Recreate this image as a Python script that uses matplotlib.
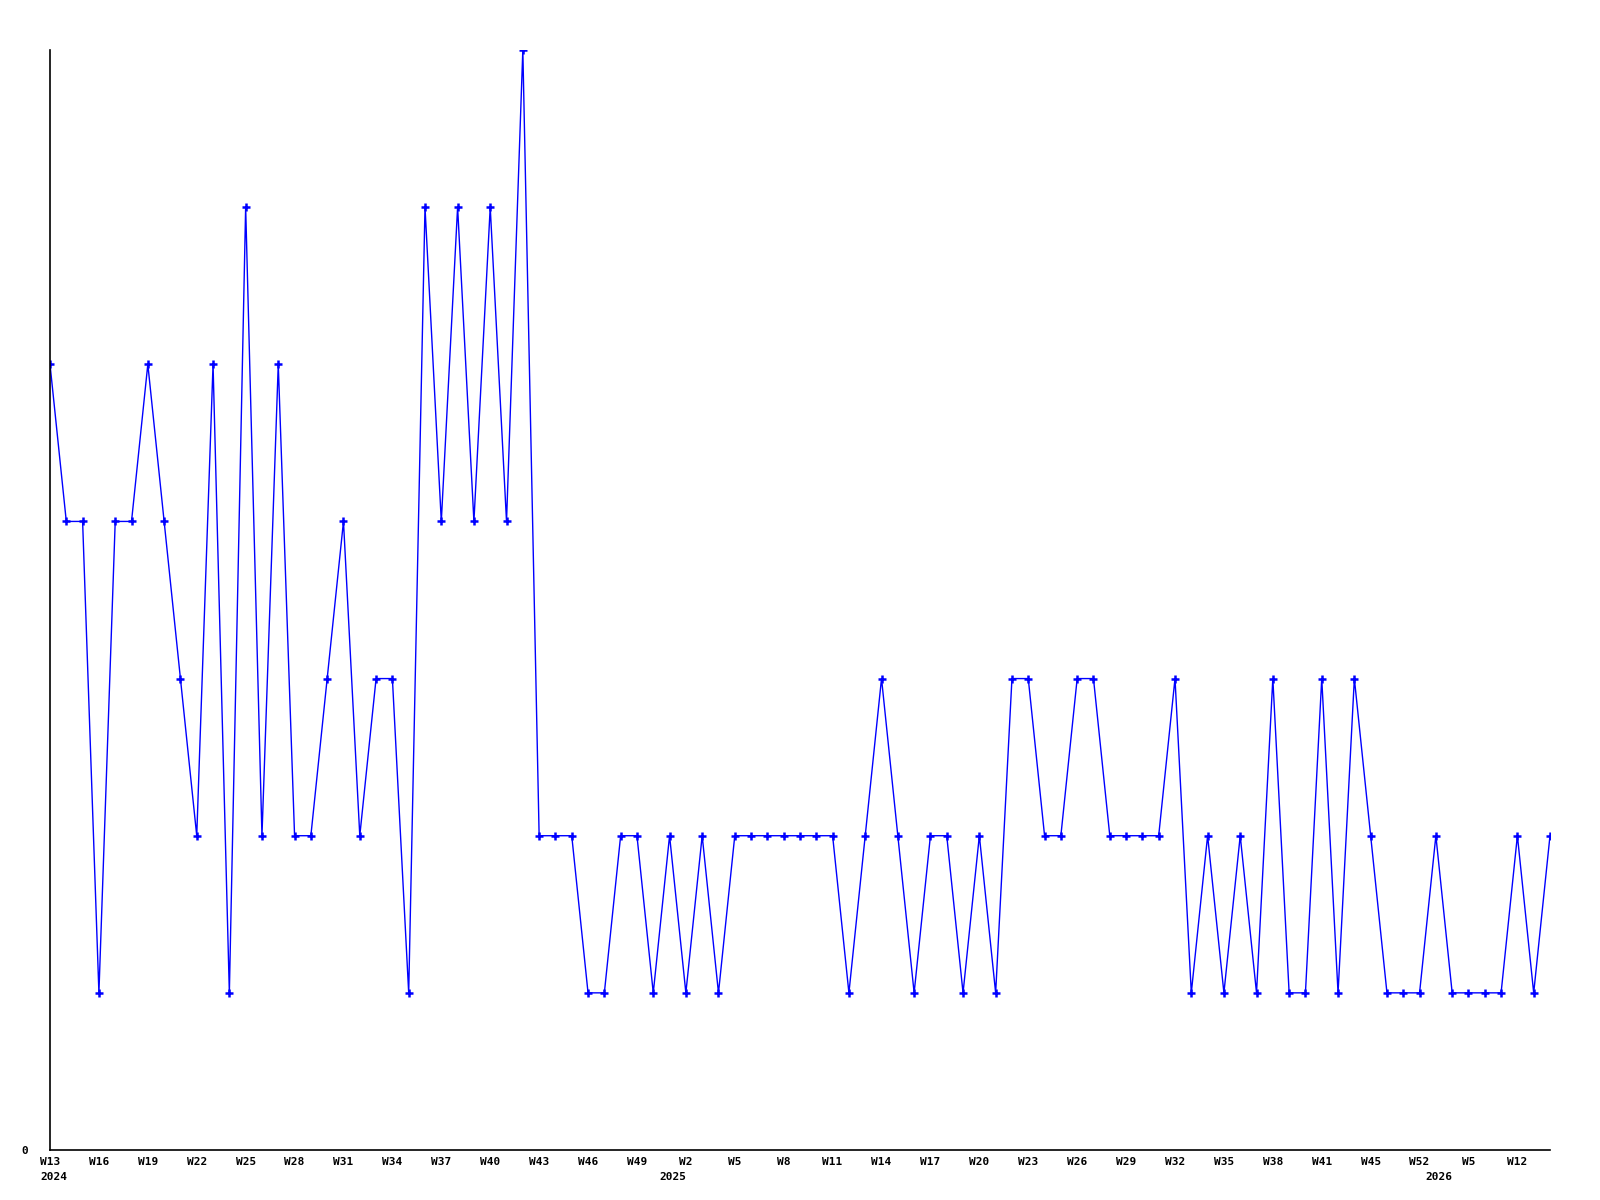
import matplotlib
matplotlib.use("Agg")
import matplotlib.pyplot as plt
from matplotlib import transforms

# weekly counts, one value per plotted week (categorical x axis)
values = [5, 4, 4, 1, 4, 4, 5, 4, 3, 2,
          5, 1, 6, 2, 5, 2, 2, 3, 4, 2,
          3, 3, 1, 6, 4, 6, 4, 6, 4, 7,
          2, 2, 2, 1, 1, 2, 2, 1, 2, 1,
          2, 1, 2, 2, 2, 2, 2, 2, 2, 1,
          2, 3, 2, 1, 2, 2, 1, 2, 1, 3,
          3, 2, 2, 3, 3, 2, 2, 2, 2, 3,
          1, 2, 1, 2, 1, 3, 1, 1, 3, 1,
          3, 2, 1, 1, 1, 2, 1, 1, 1, 1,
          2, 1, 2]

# week labels shown on every third point
week_labels = ["W13", "W16", "W19", "W22", "W25", "W28", "W31", "W34", "W37",
               "W40", "W43", "W46", "W49", "W2", "W5", "W8", "W11", "W14",
               "W17", "W20", "W23", "W26", "W29", "W32", "W35", "W38", "W41",
               "W45", "W52", "W5", "W12"]
week_label_step = 3

# year labels and the point index where each year starts
years = ["2024", "2025", "2026"]
year_start_idx = [0, 38, 85]

fig = plt.figure(figsize=(16, 12), dpi=100)
ax = fig.add_axes([50 / 1600, 50 / 1200, 1500 / 1600, 1100 / 1200])

x = list(range(len(values)))
ax.plot(x, values, color="#0000ff", linewidth=1.0, marker="+",
        markersize=5.5, markeredgewidth=1.8)

ax.set_xlim(0, len(values) - 1)
ax.set_ylim(0, 7)

for side in ["top", "right"]:
    ax.spines[side].set_visible(False)
for side in ["left", "bottom"]:
    ax.spines[side].set_color("black")
    ax.spines[side].set_linewidth(1.2)

font = dict(family="DejaVu Sans Mono", fontsize=8, fontweight="bold")

ax.set_yticks([0])
ax.set_yticklabels(["0"], **font)
ax.tick_params(axis="y", length=0, pad=16)

tick_pos = [i * week_label_step for i in range(len(week_labels))]
ax.set_xticks(tick_pos)
ax.set_xticklabels(week_labels, **font)
ax.tick_params(axis="x", length=0, pad=5)

trans = transforms.blended_transform_factory(ax.transData, ax.transAxes)
for yr, idx in zip(years, year_start_idx):
    ha = "left" if idx == 0 else "center"
    xpos = idx - 0.6 if idx == 0 else idx + 0.2
    ax.text(xpos, -0.0245, yr, transform=trans, ha=ha, va="center", **font)

fig.savefig("out.png", dpi=100)
